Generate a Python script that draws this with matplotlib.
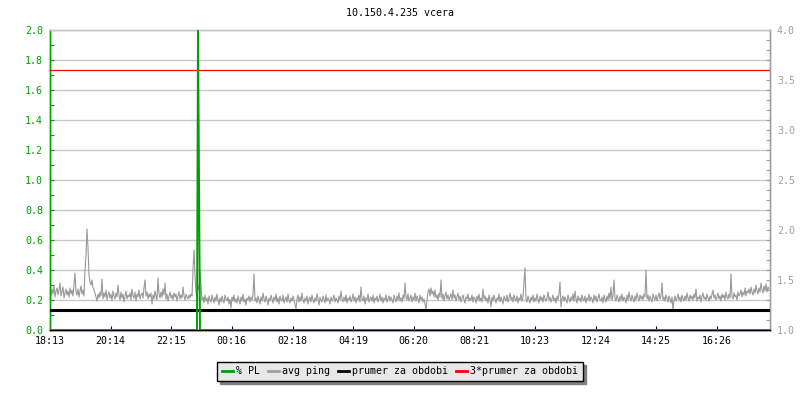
import numpy as np
import matplotlib
matplotlib.use("Agg")
import matplotlib.pyplot as plt
from matplotlib.ticker import MultipleLocator, FixedLocator
from matplotlib.lines import Line2D

# ---------------- data ----------------
title = "10.150.4.235 vcera"
tick_labels = ["18:13", "20:14", "22:15", "00:16", "02:18", "04:19",
               "06:20", "08:21", "10:23", "12:24", "14:25", "16:26"]
tick_minutes = [0, 121, 242, 363, 485, 606, 727, 848, 970, 1091, 1212, 1333]
sample_step_min = 2
span_min = 1440

# avg ping (right axis), one value per 2 minutes
ping_avg = [
    1.50, 1.34, 1.41, 1.36, 1.44, 1.33, 1.39, 1.42, 1.35, 1.40, 1.47, 1.34, 1.38, 1.43, 1.32, 1.37, 1.41, 1.35, 1.39, 1.33,
    1.42, 1.36, 1.40, 1.34, 1.45, 1.57, 1.38, 1.35, 1.41, 1.33, 1.39, 1.44, 1.36, 1.40, 1.34, 1.60, 1.75, 2.01, 1.82, 1.55,
    1.48, 1.45, 1.50, 1.42, 1.40, 1.37, 1.33, 1.29, 1.36, 1.32, 1.38, 1.34, 1.51, 1.31, 1.37, 1.33, 1.40, 1.30, 1.35, 1.38,
    1.32, 1.36, 1.29, 1.39, 1.34, 1.31, 1.37, 1.33, 1.45, 1.35, 1.30, 1.38, 1.32, 1.36, 1.28, 1.34, 1.39, 1.31, 1.35, 1.33,
    1.37, 1.30, 1.41, 1.34, 1.32, 1.38, 1.29, 1.36, 1.33, 1.40, 1.31, 1.35, 1.37, 1.32, 1.42, 1.50, 1.34, 1.38, 1.31, 1.36,
    1.33, 1.37, 1.26, 1.35, 1.31, 1.39, 1.34, 1.30, 1.52, 1.36, 1.32, 1.38, 1.33, 1.41, 1.35, 1.47, 1.31, 1.36, 1.29, 1.34,
    1.38, 1.32, 1.35, 1.30, 1.37, 1.33, 1.36, 1.29, 1.34, 1.38, 1.31, 1.35, 1.32, 1.43, 1.34, 1.30, 1.36, 1.33, 1.31, 1.35,
    1.32, 1.36, 1.34, 1.60, 1.80, 1.55, 1.38, 1.33, 1.45, 1.40, 1.58, 1.45, 1.30, 1.33, 1.27, 1.35, 1.29, 1.32, 1.26, 1.34,
    1.30, 1.28, 1.35, 1.31, 1.27, 1.33, 1.29, 1.36, 1.30, 1.25, 1.32, 1.28, 1.34, 1.30, 1.27, 1.35, 1.31, 1.29, 1.33, 1.26,
    1.31, 1.22, 1.33, 1.29, 1.35, 1.28, 1.31, 1.27, 1.34, 1.30, 1.26, 1.33, 1.29, 1.36, 1.28, 1.31, 1.25, 1.32, 1.30, 1.34,
    1.28, 1.33, 1.30, 1.35, 1.56, 1.29, 1.32, 1.27, 1.34, 1.30, 1.26, 1.33, 1.29, 1.37, 1.31, 1.28, 1.34, 1.30, 1.25, 1.32,
    1.29, 1.35, 1.31, 1.27, 1.33, 1.30, 1.36, 1.28, 1.32, 1.26, 1.34, 1.30, 1.29, 1.35, 1.27, 1.31, 1.33, 1.28, 1.36, 1.30,
    1.27, 1.32, 1.29, 1.34, 1.30, 1.26, 1.21, 1.31, 1.35, 1.28, 1.33, 1.29, 1.37, 1.30, 1.27, 1.32, 1.29, 1.34, 1.26, 1.31,
    1.33, 1.28, 1.35, 1.30, 1.27, 1.32, 1.29, 1.36, 1.31, 1.25, 1.33, 1.30, 1.28, 1.34, 1.31, 1.27, 1.35, 1.29, 1.32, 1.30,
    1.26, 1.33, 1.29, 1.31, 1.35, 1.28, 1.32, 1.30, 1.27, 1.34, 1.30, 1.39, 1.31, 1.28, 1.33, 1.29, 1.35, 1.27, 1.32, 1.30,
    1.34, 1.28, 1.31, 1.36, 1.29, 1.33, 1.27, 1.32, 1.30, 1.35, 1.28, 1.43, 1.31, 1.29, 1.34, 1.26, 1.32, 1.30, 1.36, 1.28,
    1.31, 1.33, 1.29, 1.35, 1.27, 1.32, 1.30, 1.34, 1.28, 1.31, 1.36, 1.29, 1.33, 1.27, 1.32, 1.30, 1.35, 1.28, 1.31, 1.34,
    1.29, 1.33, 1.30, 1.27, 1.35, 1.31, 1.28, 1.34, 1.30, 1.37, 1.29, 1.32, 1.28, 1.35, 1.31, 1.47, 1.33, 1.30, 1.36, 1.29,
    1.32, 1.35, 1.28, 1.33, 1.30, 1.37, 1.29, 1.34, 1.31, 1.27, 1.35, 1.30, 1.33, 1.28, 1.31, 1.26, 1.20, 1.30, 1.38, 1.41,
    1.34, 1.42, 1.36, 1.39, 1.33, 1.40, 1.32, 1.35, 1.30, 1.37, 1.33, 1.50, 1.31, 1.36, 1.29, 1.34, 1.38, 1.31, 1.35, 1.30,
    1.33, 1.36, 1.30, 1.40, 1.32, 1.35, 1.29, 1.33, 1.37, 1.30, 1.34, 1.28, 1.32, 1.35, 1.30, 1.27, 1.33, 1.31, 1.36, 1.29,
    1.32, 1.30, 1.35, 1.28, 1.33, 1.31, 1.27, 1.34, 1.30, 1.36, 1.29, 1.32, 1.28, 1.41, 1.31, 1.34, 1.29, 1.32, 1.27, 1.35,
    1.30, 1.23, 1.33, 1.29, 1.35, 1.31, 1.27, 1.32, 1.30, 1.36, 1.28, 1.33, 1.30, 1.26, 1.34, 1.31, 1.29, 1.35, 1.28, 1.32,
    1.37, 1.30, 1.33, 1.28, 1.35, 1.31, 1.29, 1.34, 1.27, 1.32, 1.30, 1.36, 1.29, 1.33, 1.48, 1.62, 1.31, 1.28, 1.34, 1.30,
    1.27, 1.33, 1.30, 1.35, 1.28, 1.32, 1.29, 1.36, 1.31, 1.27, 1.34, 1.30, 1.33, 1.28, 1.35, 1.31, 1.29, 1.32, 1.38, 1.30,
    1.33, 1.28, 1.31, 1.35, 1.29, 1.32, 1.27, 1.34, 1.30, 1.36, 1.48, 1.23, 1.31, 1.34, 1.29, 1.33, 1.30, 1.27, 1.35, 1.31,
    1.28, 1.33, 1.30, 1.36, 1.29, 1.39, 1.31, 1.27, 1.34, 1.30, 1.32, 1.28, 1.35, 1.31, 1.29, 1.34, 1.27, 1.32, 1.30, 1.36,
    1.29, 1.33, 1.31, 1.27, 1.35, 1.30, 1.34, 1.28, 1.32, 1.36, 1.30, 1.29, 1.33, 1.27, 1.35, 1.31, 1.28, 1.34, 1.30, 1.37,
    1.31, 1.43, 1.30, 1.34, 1.50, 1.32, 1.29, 1.35, 1.31, 1.28, 1.34, 1.30, 1.36, 1.29, 1.33, 1.31, 1.27, 1.35, 1.30, 1.38,
    1.32, 1.29, 1.35, 1.31, 1.28, 1.34, 1.30, 1.37, 1.32, 1.29, 1.35, 1.31, 1.34, 1.30, 1.36, 1.33, 1.60, 1.31, 1.35, 1.29,
    1.34, 1.31, 1.28, 1.36, 1.32, 1.30, 1.35, 1.29, 1.33, 1.37, 1.31, 1.34, 1.47, 1.30, 1.33, 1.29, 1.35, 1.32, 1.28, 1.34,
    1.31, 1.27, 1.33, 1.20, 1.30, 1.34, 1.29, 1.32, 1.36, 1.30, 1.33, 1.28, 1.35, 1.31, 1.29, 1.34, 1.30, 1.37, 1.32, 1.29,
    1.35, 1.31, 1.34, 1.30, 1.36, 1.32, 1.41, 1.29, 1.33, 1.31, 1.35, 1.28, 1.34, 1.37, 1.31, 1.33, 1.30, 1.36, 1.32, 1.29,
    1.34, 1.31, 1.36, 1.40, 1.32, 1.35, 1.30, 1.33, 1.37, 1.31, 1.34, 1.29, 1.36, 1.32, 1.35, 1.30, 1.38, 1.33, 1.31, 1.36,
    1.32, 1.56, 1.34, 1.31, 1.37, 1.33, 1.35, 1.30, 1.38, 1.34, 1.36, 1.40, 1.33, 1.38, 1.35, 1.42, 1.34, 1.39, 1.37, 1.41,
    1.36, 1.43, 1.38, 1.35, 1.41, 1.37, 1.45, 1.39, 1.36, 1.42, 1.38, 1.47, 1.40, 1.37, 1.44, 1.39, 1.46, 1.38, 1.43, 1.41,
]

# packet loss (left axis): zero except these samples
pl_spike_index = [148, 149]
pl_spike_values = [2.0, 1.0]

prumer = 1.2          # average over period (right axis)
prumer_factor = 3     # 3*prumer line

legend_labels = ["% PL", "avg ping", "prumer za obdobi", "3*prumer za obdobi"]

# ---------------- styling ----------------
GREEN = "#00a000"
GRAY = "#a0a0a0"
PING = "#999999"
GRID = "#c8c8c8"
FONT = "DejaVu Sans Mono"
FS = 7.2

plt.rcParams["font.family"] = FONT
plt.rcParams["font.size"] = FS

times = np.arange(len(ping_avg)) * sample_step_min
pl = np.zeros(len(ping_avg))
pl[pl_spike_index] = pl_spike_values

fig = plt.figure(figsize=(8, 4), dpi=100)
ax = fig.add_axes([50 / 800, 1 - 330 / 400, 720 / 800, 300 / 400])
ax2 = ax.twinx()

ax.set_xlim(0, span_min)
ax.set_ylim(0, 2.0)
ax2.set_ylim(1.0, 4.0)

# grid on left axis
ax.yaxis.set_major_locator(MultipleLocator(0.2))
ax.yaxis.set_minor_locator(MultipleLocator(0.1))
ax.grid(axis="y", which="major", color=GRID, linewidth=1.0)
ax.grid(axis="x", visible=False)
ax.set_yticklabels([f"{v:.1f}" for v in ax.get_yticks()])
ax.tick_params(axis="y", which="both", direction="in", colors=GREEN,
               length=3, width=0.8, pad=5, labelsize=FS)

ax.xaxis.set_major_locator(FixedLocator(tick_minutes))
ax.set_xticklabels(tick_labels)
ax.tick_params(axis="x", which="both", direction="in", length=3, width=0.8,
               pad=4, colors="black", labelsize=FS)

ax2.yaxis.set_major_locator(MultipleLocator(0.5))
ax2.yaxis.set_minor_locator(MultipleLocator(0.1))
ax2.set_yticklabels([f"{v:.1f}" for v in ax2.get_yticks()])
ax2.tick_params(axis="y", which="both", direction="in", colors=GRAY,
                length=3, width=0.8, pad=5, labelsize=FS)

for a in (ax, ax2):
    a.spines["left"].set_color(GREEN)
    a.spines["right"].set_color(GRAY)
    a.spines["top"].set_color(GRID)
    a.spines["bottom"].set_color("black")
    for s in a.spines.values():
        s.set_linewidth(1.0)

# data lines
ax2.plot(times, ping_avg, color=PING, linewidth=0.8, zorder=2)
ax2.axhline(prumer, color="black", linewidth=2.2, zorder=3)
ax2.axhline(prumer * prumer_factor, color="#ff0000", linewidth=0.9, zorder=4)
ax2.plot(times, pl, color=GREEN, linewidth=1.4, zorder=5,
         transform=ax.transData, clip_on=True)

fig.text(0.5, 1 - 13 / 400, title, ha="center", va="center", fontsize=FS)

handles = [Line2D([], [], color=GREEN, linewidth=2),
           Line2D([], [], color=GRAY, linewidth=2),
           Line2D([], [], color="black", linewidth=2),
           Line2D([], [], color="#ff0000", linewidth=2)]
leg = fig.legend(handles, legend_labels, loc="center",
                 bbox_to_anchor=(0.5, 1 - 371.5 / 400), ncol=4,
                 frameon=True, fancybox=False,
                 shadow={"ox": 2.5, "oy": -2.5, "color": "#808080", "alpha": 1.0},
                 edgecolor="black", facecolor="#e8e8e8", framealpha=1.0,
                 handlelength=1.1, handletextpad=0.4, columnspacing=0.7,
                 borderpad=0.45, fontsize=FS, borderaxespad=0)
leg.get_frame().set_linewidth(1.0)

fig.savefig("out.png", dpi=100)
